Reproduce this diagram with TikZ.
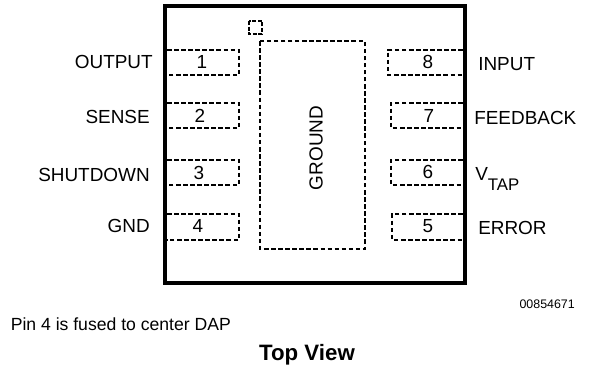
\documentclass[tikz,border=0pt]{standalone}
\usepackage{fontspec}
\setmainfont{Liberation Sans}
\tikzset{
 chip/.style={draw,line width=3pt,line join=miter},
 dots/.style={line width=1.9pt,dash pattern=on 3.4pt off 1.9pt,line cap=butt},
 lab/.style={font=\fontsize{14.2}{16}\selectfont,inner sep=0pt},
 num/.style={font=\fontsize{14.2}{16}\selectfont,inner sep=0pt},
}
\begin{document}
\begin{tikzpicture}[x=0.75pt,y=-0.75pt]
\useasboundingbox (0,0) rectangle (592,369);
\fill[white] (0,0) rectangle (592,369);
\draw[chip] (165,6) rectangle (465,283);
% left pads
\foreach \t/\b/\n/\nx/\ny/\l/\lx/\ly in {50/75/1/202/62/OUTPUT/153/62,103/128/2/200/116/SENSE/150/117,160/185/3/199/173/SHUTDOWN/150/175,214/240/4/198/226/GND/150/226}{
  \draw[dots] (167,\t) -- (239,\t) -- (239,\b) -- (167,\b);
  \node[num] (pl\n) at (\nx,\ny) {\n};
  \node[lab,anchor=east] (tl\n) at (\lx,\ly) {\l};
}
% right pads
\foreach \t/\b/\r/\n/\nx/\ny in {50/75/388/8/428/62,103/128/391/7/429/116,160/185/391/6/428/172,214/240/392/5/428/226}{
  \draw[dots] (463,\t) -- (\r,\t) -- (\r,\b) -- (463,\b);
  \node[num] (pr\n) at (\nx,\ny) {\n};
}
\node[lab,anchor=west] (tr8) at (478,64) {INPUT};
\node[lab,anchor=west] (tr7) at (474,118) {FEEDBACK};
\node[lab,anchor=base west] (tr6) at (475,180) {V\raisebox{-7.5pt}{\fontsize{12.6}{14}\selectfont TAP}};
\node[lab,anchor=west] (tr5) at (478,228) {ERROR};
\draw[dots] (260,41) rectangle (365,249);
\draw[dots,dash pattern=on 3pt off 1.2pt] (249,21) rectangle (262,34);
\node[lab,rotate=90] (g) at (316,148) {GROUND};
\node[font=\fontsize{9.3}{10}\selectfont,inner sep=0pt,anchor=east] (id) at (575,304) {00854671};
\node[font=\fontsize{13.2}{14}\selectfont,inner sep=0pt,anchor=west] (note) at (10.5,324) {Pin 4 is fused to center DAP};
\node[font=\bfseries\fontsize{16.7}{18}\selectfont,inner sep=0pt] (tv) at (307,355) {Top View};
\end{tikzpicture}
\end{document}
